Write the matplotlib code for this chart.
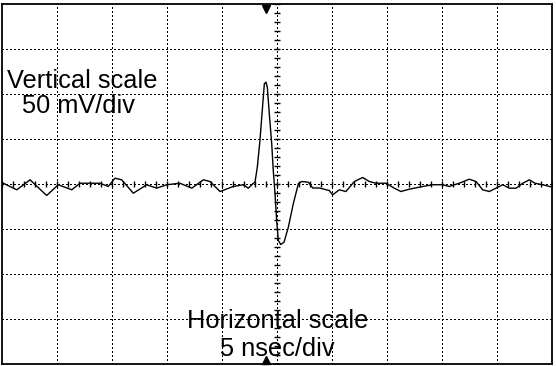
import matplotlib
matplotlib.use("Agg")
import matplotlib.pyplot as plt
import numpy as np

# Time (ns) and voltage (mV) of the oscilloscope trace
time_ns = [-24.88, -23.66, -22.45, -20.94, -19.88, -18.66, -17.91, -16.09, -15.34, -14.73,
           -14.12, -13.06, -11.85, -10.94, -10.03, -8.82, -7.75, -6.70, -6.09, -5.18,
           -3.97, -3.06, -2.61, -2.15, -2.00, -1.79, -1.55, -1.34, -1.15, -1.00,
           -0.88, -0.70, -0.48, -0.34, -0.18, -0.03, 0.12, 0.34, 0.64, 1.03,
           1.48, 1.94, 2.25, 2.85, 3.25, 3.85, 4.75, 5.06, 5.66, 6.27,
           7.03, 7.79, 8.39, 9.00, 9.91, 10.66, 11.27, 12.03, 13.25, 14.15,
           15.06, 15.66, 16.57, 17.48, 18.09, 18.70, 19.30, 19.91, 20.52, 21.12,
           21.73, 22.34, 22.94, 23.45, 24.15, 25.06]
volt_mV = [0.3, -7.0, 4.1, -13.3, -1.4, -7.0, 0.3, 0.3, -3.3, 5.9,
           4.1, -10.8, -1.4, -5.2, -1.4, 0.3, -5.2, 4.1, 2.2, -8.9,
           -3.3, -1.4, -5.2, 0.3, 1.4, 18.1, 47.8, 81.1, 110.8, 112.6,
           107.0, 77.4, 44.1, 14.4, -11.4, -41.1, -63.3, -67.8, -65.2, -48.6,
           -22.6, -0.3, 2.2, 1.4, -5.0, -5.0, -7.8, -12.6, -7.0, -8.9,
           2.2, 6.7, 2.2, 0.3, 0.3, -5.2, -8.9, -6.3, -3.3, -1.4,
           -1.4, -3.3, 0.3, 4.8, 2.2, -7.0, -8.9, -5.2, -1.4, -5.2,
           -5.2, 0.3, 4.1, 0.3, -1.4, -4.1]

ns_per_div = 5
mV_per_div = 50
x_divs = 10
y_divs = 8
trigger_ns = -1.0
labels_v = ["Vertical scale", "50 mV/div"]
labels_h = ["Horizontal scale", "5 nsec/div"]

fig = plt.figure(figsize=(5.56, 3.66), dpi=100)
ax = fig.add_axes([2/556, 2.5/366, 550/556, 360/366])
xmax = ns_per_div * x_divs / 2
ymax = mV_per_div * y_divs / 2
ax.set_xlim(-xmax, xmax)
ax.set_ylim(-ymax, ymax)
ax.set_xticks([])
ax.set_yticks([])
for s in ax.spines.values():
    s.set_linewidth(1.3)

dot = (0, (1, 1.6))
for gx in np.arange(-xmax + ns_per_div, xmax, ns_per_div):
    ax.axvline(gx, color="black", lw=0.9, ls=dot, antialiased=False)
for gy in np.arange(-ymax + mV_per_div, ymax, mV_per_div):
    ax.axhline(gy, color="black", lw=0.9, ls=dot, antialiased=False)

# minor ticks on center axes
mx = np.arange(-xmax, xmax + 0.01, ns_per_div / 5)
my = np.arange(-ymax, ymax + 0.01, mV_per_div / 5)
ax.plot(mx, np.zeros_like(mx), ls="none", marker="|", ms=5, mew=1, color="black")
ax.plot(np.zeros_like(my), my, ls="none", marker="_", ms=5, mew=1, color="black")

ax.plot(time_ns, volt_mV, color="black", lw=1.0)

# trigger markers
ax.plot([trigger_ns], [ymax - 6], marker="v", ms=6, color="black", clip_on=False)
ax.plot([trigger_ns], [-ymax + 4], marker="^", ms=6, color="black", clip_on=False)

font = dict(family="Liberation Sans", fontsize=18.3, color="black")
fig.text(82 / 556, 1 - 88 / 366, labels_v[0], ha="center", va="baseline", **font)
fig.text(79 / 556, 1 - 113 / 366, labels_v[1], ha="center", va="baseline", **font)
fig.text(277.5 / 556, 1 - 328 / 366, labels_h[0], ha="center", va="baseline", **font)
fig.text(277.5 / 556, 1 - 356 / 366, labels_h[1], ha="center", va="baseline", **font)

fig.savefig("out.png", dpi=100)
